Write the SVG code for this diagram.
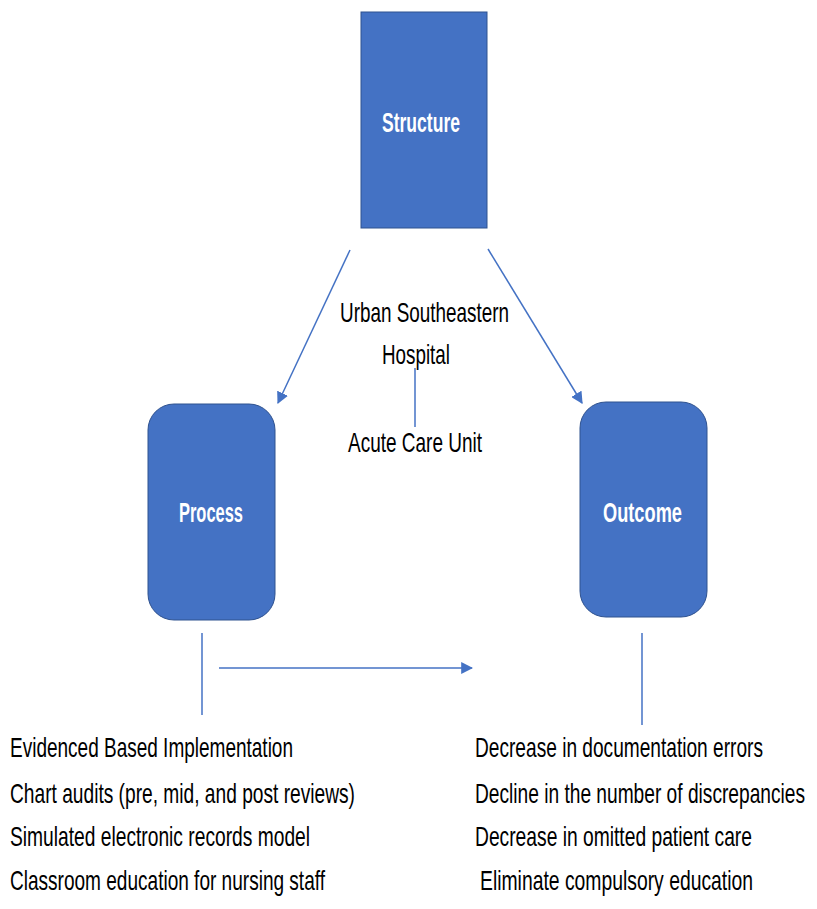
<svg xmlns="http://www.w3.org/2000/svg" width="817" height="909" viewBox="0 0 817 909">
<style>
.node{fill:#4472C4;stroke:#2F528F;stroke-width:1}
.lbl{font-family:"Liberation Sans",Arial,sans-serif;font-size:27px;font-weight:bold;fill:#FFFFFF}
.txt{font-family:"Liberation Sans",Arial,sans-serif;font-size:27px;fill:#000000}
.con{stroke:#4472C4;stroke-width:1.5;fill:none}
</style>
<defs>
<marker id="ah" viewBox="0 0 10 10" refX="9" refY="5" markerWidth="12" markerHeight="12" markerUnits="userSpaceOnUse" orient="auto">
<path d="M0,0 L10,5 L0,10 z" fill="#4472C4"/>
</marker>
</defs>
<rect width="817" height="909" fill="#FFFFFF"/>
<g id="connectors">
<line class="con" x1="350" y1="250" x2="278" y2="403" marker-end="url(#ah)"/>
<line class="con" x1="488" y1="249" x2="582" y2="403" marker-end="url(#ah)"/>
<line class="con" x1="415" y1="368" x2="415" y2="427"/>
<line class="con" x1="202" y1="633" x2="202" y2="715"/>
<line class="con" x1="219" y1="668" x2="472" y2="668" marker-end="url(#ah)"/>
<line class="con" x1="642" y1="633" x2="642" y2="725"/>
</g>
<g id="structure">
<rect class="node" x="361" y="12" width="126" height="216"/>
<text class="lbl" transform="translate(382,132) scale(0.55,1)" textLength="141.8" lengthAdjust="spacingAndGlyphs">Structure</text>
</g>
<g id="process">
<rect class="node" x="148" y="404" width="127" height="216" rx="26" ry="26"/>
<text class="lbl" transform="translate(179,522) scale(0.55,1)" textLength="116.4" lengthAdjust="spacingAndGlyphs">Process</text>
</g>
<g id="outcome">
<rect class="node" x="580" y="402" width="127" height="215" rx="26" ry="26"/>
<text class="lbl" transform="translate(603,522) scale(0.55,1)" textLength="143.6" lengthAdjust="spacingAndGlyphs">Outcome</text>
</g>
<g id="structure-notes">
<text class="txt" transform="translate(340,322) scale(0.55,1)" textLength="307.3" lengthAdjust="spacingAndGlyphs">Urban Southeastern</text>
<text class="txt" transform="translate(382,364) scale(0.55,1)" textLength="123.6" lengthAdjust="spacingAndGlyphs">Hospital</text>
<text class="txt" transform="translate(348,452) scale(0.55,1)" textLength="243.6" lengthAdjust="spacingAndGlyphs">Acute Care Unit</text>
</g>
<g id="process-notes">
<text class="txt" transform="translate(10,757) scale(0.55,1)" textLength="514.5" lengthAdjust="spacingAndGlyphs">Evidenced Based Implementation</text>
<text class="txt" transform="translate(10,803) scale(0.55,1)" textLength="627.3" lengthAdjust="spacingAndGlyphs">Chart audits (pre, mid, and post reviews)</text>
<text class="txt" transform="translate(10,846) scale(0.55,1)" textLength="545.5" lengthAdjust="spacingAndGlyphs">Simulated electronic records model</text>
<text class="txt" transform="translate(10,890) scale(0.55,1)" textLength="572.7" lengthAdjust="spacingAndGlyphs">Classroom education for nursing staff</text>
</g>
<g id="outcome-notes">
<text class="txt" transform="translate(475,757) scale(0.55,1)" textLength="523.6" lengthAdjust="spacingAndGlyphs">Decrease in documentation errors</text>
<text class="txt" transform="translate(475,803) scale(0.55,1)" textLength="600" lengthAdjust="spacingAndGlyphs">Decline in the number of discrepancies</text>
<text class="txt" transform="translate(475,846) scale(0.55,1)" textLength="503.6" lengthAdjust="spacingAndGlyphs">Decrease in omitted patient care</text>
<text class="txt" transform="translate(480,890) scale(0.55,1)" textLength="496.4" lengthAdjust="spacingAndGlyphs">Eliminate compulsory education</text>
</g>
</svg>
